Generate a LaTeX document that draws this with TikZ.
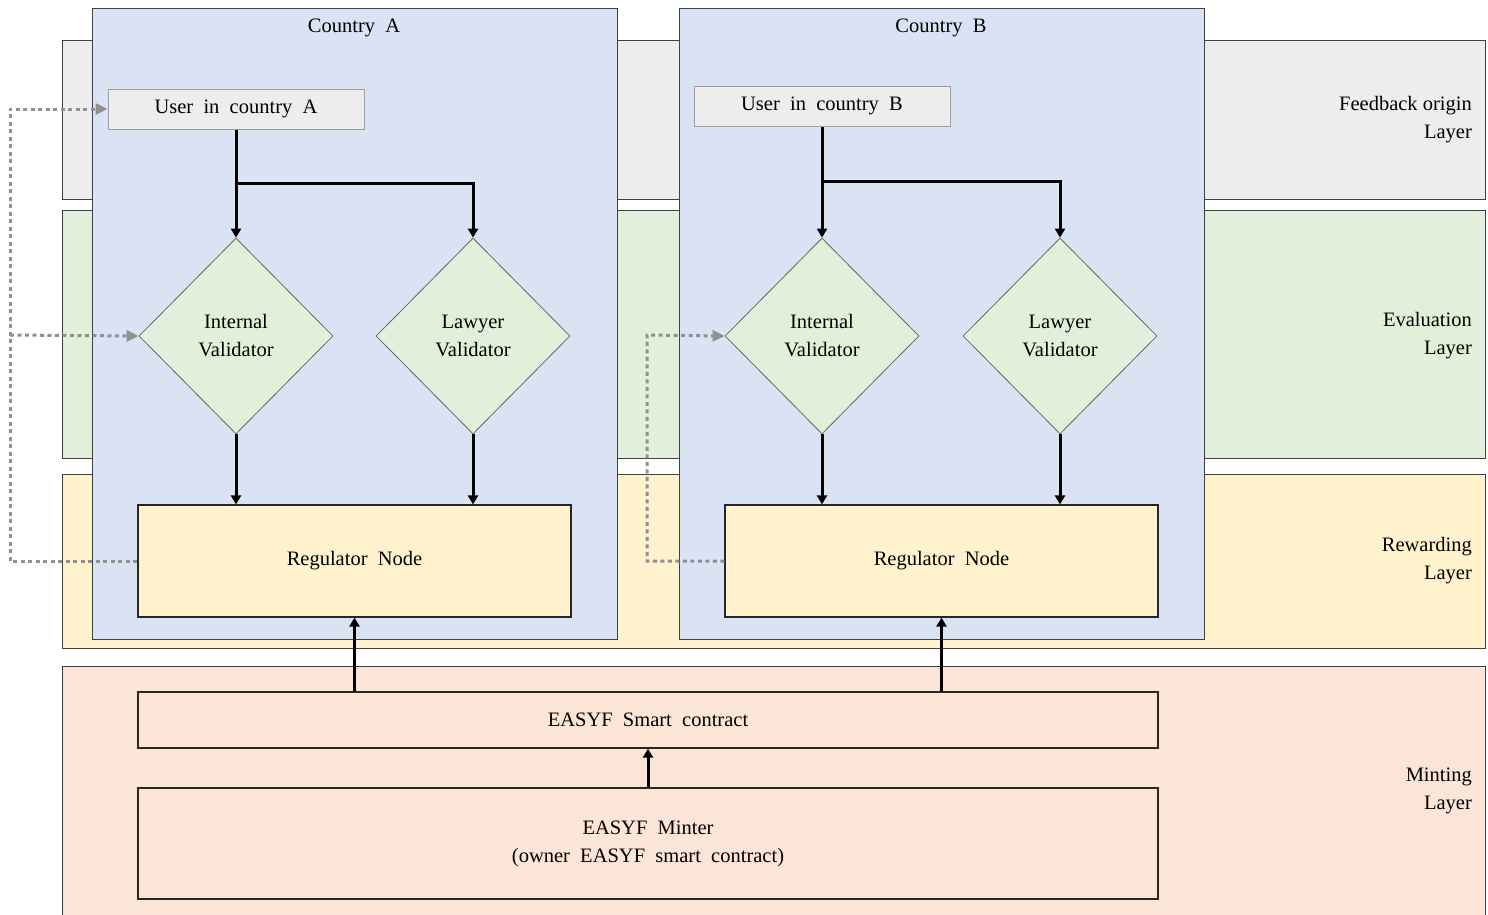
\documentclass[tikz,border=0pt]{standalone}
\usepackage{fontspec}
\setmainfont{Liberation Serif}
\usetikzlibrary{arrows.meta,shapes.geometric}

\definecolor{fbfill}{HTML}{EDEDED}
\definecolor{evfill}{HTML}{E2EFDA}
\definecolor{rwfill}{HTML}{FFF2CC}
\definecolor{mtfill}{HTML}{FBE5D6}
\definecolor{ctfill}{HTML}{DAE3F3}
\definecolor{edge}{HTML}{404040}
\definecolor{dotgray}{HTML}{909090}

\tikzset{
  layer/.style={draw=edge, line width=1.3pt, anchor=north west, inner sep=0pt},
  country/.style={draw=edge, line width=1.3pt, fill=ctfill, anchor=north west, inner sep=0pt},
  userbox/.style={draw=gray!75, line width=1pt, fill=fbfill, minimum width=256pt, minimum height=40pt, inner sep=0pt},
  check/.style={diamond, draw=gray!80!black, line width=0.8pt, fill=evfill, minimum width=194pt, minimum height=196pt, inner sep=0pt, align=center},
  regbox/.style={draw=black!85, line width=1.2pt, fill=rwfill, minimum width=433pt, minimum height=112pt, inner sep=0pt},
  mintbox/.style={draw=black!85, line width=1.2pt, fill=mtfill, minimum width=1020pt, inner sep=0pt, align=center},
  layerlabel/.style={anchor=east, align=right, inner sep=0pt},
  arr/.style={line width=3pt, -{Triangle[length=9pt,width=10pt]}},
  fbarr/.style={dotgray, line width=3pt, dash pattern=on 4pt off 3.5pt, -{Triangle[length=12pt,width=11pt]}},
  fbline/.style={dotgray, line width=3pt, dash pattern=on 4pt off 3.5pt}
}

\begin{document}
\begin{tikzpicture}[x=1pt,y=-1pt,font=\fontsize{20.5}{28}\selectfont]
\useasboundingbox (0,0) rectangle (1488,914);
\clip (0,0) rectangle (1488,914);

% horizontal layers
\node[layer, fill=fbfill, minimum width=1423pt, minimum height=159pt] (lfb) at (62,40) {};
\node[layer, fill=evfill, minimum width=1423pt, minimum height=248pt] (lev) at (62,210) {};
\node[layer, fill=rwfill, minimum width=1423pt, minimum height=174pt] (lrw) at (62,474) {};
\node[layer, fill=mtfill, minimum width=1423pt, minimum height=260pt] (lmt) at (62,666) {};

\node[layerlabel] (tfb) at (1472,120) {Feedback origin\\Layer};
\node[layerlabel] (tev) at (1472,336) {Evaluation\\Layer};
\node[layerlabel] (trw) at (1472,561) {Rewarding\\Layer};
\node[layerlabel] (tmt) at (1472,791) {Minting\\Layer};

% country containers
\node[country, minimum width=525pt, minimum height=631pt] (ca) at (92,8) {};
\node[country, minimum width=525pt, minimum height=631pt] (cb) at (679,8) {};
\node (tca) at (354,28) {Country\ \ A};
\node (tcb) at (941,28) {Country\ \ B};

% country A
\node[userbox] (ua) at (236,109) {User\ \ in\ \ country\ \ A};
\node[check] (ia) at (236,336) {Internal\\Validator};
\node[check] (la) at (473,336) {Lawyer\\Validator};
\node[regbox] (ra) at (354.5,561) {Regulator\ \ Node};

% country B
\node[userbox] (ub) at (822,106) {User\ \ in\ \ country\ \ B};
\node[check] (ib) at (822,336) {Internal\\Validator};
\node[check] (lb) at (1060,336) {Lawyer\\Validator};
\node[regbox] (rb) at (941.5,561) {Regulator\ \ Node};

% minting
\node[mintbox, minimum height=56pt] (sc) at (648,720) {EASYF\ \ Smart\ \ contract};
\node[mintbox, minimum height=111pt] (mn) at (648,843.5) {EASYF\ \ Minter\\(owner\ \ EASYF\ \ smart\ \ contract)};

% flows in country A
\draw[arr] (ua.south) -- (ia.north);
\draw[arr] (ua.south) ++(0,54) -| (la.north);
\draw[arr] (ia.south) -- (ia.south |- ra.north);
\draw[arr] (la.south) -- (la.south |- ra.north);

% flows in country B
\draw[arr] (ub.south) -- (ib.north);
\draw[arr] (ub.south) ++(0,55) -| (lb.north);
\draw[arr] (ib.south) -- (ib.south |- rb.north);
\draw[arr] (lb.south) -- (lb.south |- rb.north);

% minting flows
\draw[arr] (mn.north) -- (sc.south);
\draw[arr] (sc.north -| ra.south) -- (ra.south);
\draw[arr] (sc.north -| rb.south) -- (rb.south);

% feedback loops
\coordinate (fa) at (10,335);
\coordinate (fb) at (647,335);
\draw[fbarr] (ra.west) -| (fa) |- (ua.west);
\draw[fbarr] (fa) -- (ia.west);
\draw[fbarr] (rb.west) -| (fb) -- (ib.west);
\end{tikzpicture}
\end{document}
